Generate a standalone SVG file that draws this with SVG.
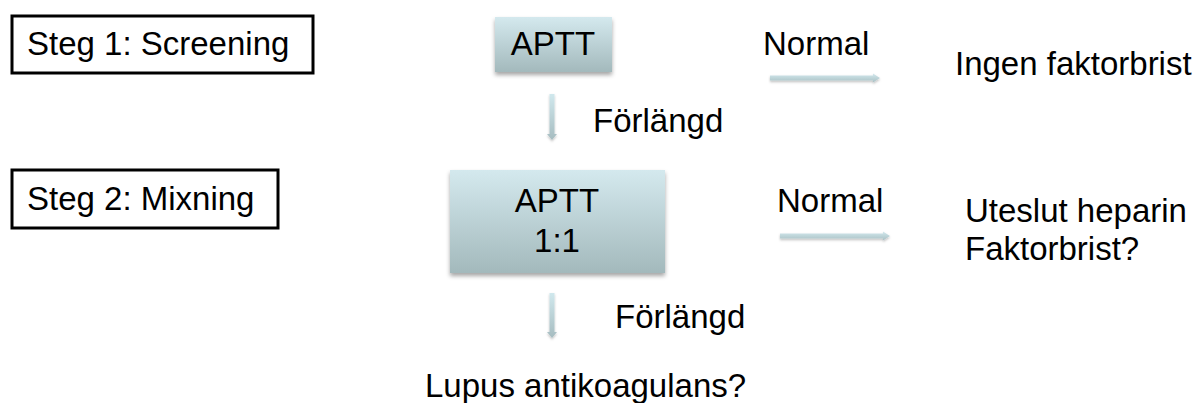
<svg xmlns="http://www.w3.org/2000/svg" width="1203" height="403" viewBox="0 0 1203 403">
  <style>
    text { font-family: "Liberation Sans", Arial, sans-serif; font-size: 33px; fill: #000; }
    .step { fill: #fff; stroke: #000; stroke-width: 3; }
    .box { fill: url(#boxGrad); filter: url(#shadow); }
    .arrowH { fill: url(#arrowGradH); filter: url(#shadowSmall); }
    .arrowV { fill: url(#arrowGradV); filter: url(#shadowSmall); }
    .mid { text-anchor: middle; }
  </style>
  <defs>
    <linearGradient id="boxGrad" x1="0" y1="0" x2="0" y2="1">
      <stop offset="0" stop-color="#d4e9ee"/>
      <stop offset="1" stop-color="#a3b9bc"/>
    </linearGradient>
    <linearGradient id="arrowGradH" x1="0" y1="0" x2="0" y2="1">
      <stop offset="0" stop-color="#d3e9ee"/>
      <stop offset="1" stop-color="#a9c0c4"/>
    </linearGradient>
    <linearGradient id="arrowGradV" x1="0" y1="0" x2="0" y2="1">
      <stop offset="0" stop-color="#d0e8ed"/>
      <stop offset="1" stop-color="#a6bcc0"/>
    </linearGradient>
    <filter id="shadow" x="-10%" y="-10%" width="120%" height="130%">
      <feDropShadow dx="0" dy="3" stdDeviation="2" flood-color="#000" flood-opacity="0.35"/>
    </filter>
    <filter id="shadowSmall" x="-20%" y="-50%" width="140%" height="200%">
      <feDropShadow dx="0" dy="1.5" stdDeviation="1" flood-color="#000" flood-opacity="0.25"/>
    </filter>
  </defs>

  <g id="step1">
    <rect class="step" x="12" y="16" width="301" height="57"/>
    <text x="27" y="55">Steg 1: Screening</text>
  </g>
  <g id="step2">
    <rect class="step" x="12" y="170" width="266" height="58"/>
    <text x="27" y="210">Steg 2: Mixning</text>
  </g>

  <g id="aptt1">
    <rect class="box" x="495" y="17" width="117" height="55"/>
    <text class="mid" x="553" y="55">APTT</text>
  </g>
  <g id="aptt2">
    <rect class="box" x="450" y="170" width="215" height="103"/>
    <text class="mid" x="557" y="212">APTT</text>
    <text class="mid" x="557" y="252">1:1</text>
  </g>

  <g id="ingen">
    <text x="955" y="75">Ingen faktorbrist</text>
  </g>
  <g id="uteslut">
    <text x="965" y="222">Uteslut heparin</text>
    <text x="965" y="260">Faktorbrist?</text>
  </g>
  <g id="lupus">
    <text x="425" y="397">Lupus antikoagulans?</text>
  </g>

  <g id="connectors">
    <path class="arrowH" d="M770,75.5 H873 V73.5 L880,78 L873,82.5 V80.5 H770 Z"/>
    <path class="arrowH" d="M780,233.5 H883 V231.5 L890,236 L883,240.5 V238.5 H780 Z"/>
    <path class="arrowV" d="M549.5,94 H554.5 V134 H557 L552,140 L547,134 H549.5 Z"/>
    <path class="arrowV" d="M549.5,293 H554.5 V332 H557 L552,338 L547,332 H549.5 Z"/>
    <text x="763" y="55">Normal</text>
    <text x="777" y="212">Normal</text>
    <text x="593" y="132">Förlängd</text>
    <text x="615" y="328">Förlängd</text>
  </g>
</svg>
